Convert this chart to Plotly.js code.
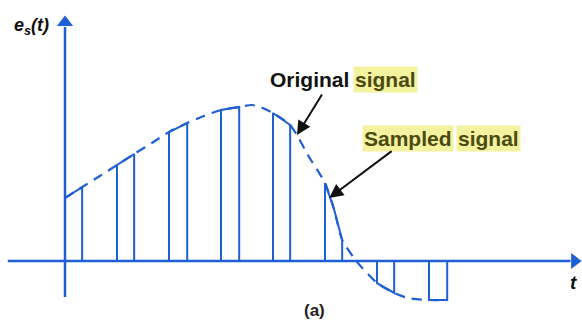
<!DOCTYPE html>
<html>
<head>
<meta charset="utf-8">
<script src="https://cdn.plot.ly/plotly-3.0.1.min.js"></script>
<style>html,body{margin:0;padding:0;background:#fff;}#chart{width:582px;height:327px;}</style>
</head>
<body>
<div id="chart"></div>
<script>
// Original (continuous) signal (t in sample periods)
var tCurve = [0, 0.33, 0.67, 1, 1.33, 1.67, 2, 2.35, 2.67, 3, 3.35, 3.6, 3.8, 4, 4.33, 4.46, 4.67, 5, 5.17, 5.33, 5.6, 5.7, 6, 6.33, 6.6, 7, 7.35];
var yCurve = [0.42, 0.493, 0.567, 0.64, 0.713, 0.787, 0.86, 0.92, 0.967, 1.007, 1.027, 1.04, 1.02, 0.987, 0.907, 0.84, 0.707, 0.52, 0.35, 0.14, 0.0, -0.04, -0.147, -0.213, -0.247, -0.26, -0.26];
// Sampling pulses: start and end of each pulse
var pulseStart = [0, 1, 2, 3, 4, 5, 6, 7];
var pulseEnd = [0.33, 1.33, 2.35, 3.35, 4.33, 5.33, 6.33, 7.35];
// Labels
var yLabel = '<i>e<sub>s</sub>(t)</i>';
var xLabel = '<i>t</i>';
var caption = '(a)';

var blue = '#1f5fd4';
var traces = [];

// axes drawn as lines with arrowheads
traces.push({x: [-1.1, 9.72], y: [0, 0], mode: 'lines', line: {color: blue, width: 2.5}, hoverinfo: 'skip'});
traces.push({x: [0, 0], y: [-0.24, 1.56], mode: 'lines', line: {color: blue, width: 2.5}, hoverinfo: 'skip'});
traces.push({x: [9.8], y: [0], mode: 'markers', marker: {symbol: 'triangle-right', size: 14, color: blue}, hoverinfo: 'skip'});
traces.push({x: [0], y: [1.59], mode: 'markers', marker: {symbol: 'triangle-up', size: 14, color: blue}, hoverinfo: 'skip'});

// dashed original signal
traces.push({x: tCurve, y: yCurve, mode: 'lines', line: {color: blue, width: 2.2, dash: '10px,7px', shape: 'spline', smoothing: 0.6}, hoverinfo: 'skip'});

// pulses following the curve
for (var i = 0; i < pulseStart.length; i++) {
  var px = [pulseStart[i]], py = [0];
  for (var j = 0; j < tCurve.length; j++) {
    if (tCurve[j] >= pulseStart[i] - 1e-9 && tCurve[j] <= pulseEnd[i] + 1e-9) {
      px.push(tCurve[j]); py.push(yCurve[j]);
    }
  }
  px.push(pulseEnd[i]); py.push(0);
  traces.push({x: px, y: py, mode: 'lines', line: {color: blue, width: 2}, hoverinfo: 'skip'});
}

var W = 582, H = 327;
function pX(p) { return p / W; }
function pY(p) { return 1 - p / H; }
var hl = '#f3f29e', olive = '#4b4a12';
var fnt = 'Liberation Sans, Arial, sans-serif';
function lab(x, y, text, size, color, bg) {
  var a = {xref: 'paper', yref: 'paper', x: pX(x), y: pY(y), xanchor: 'center', yanchor: 'middle',
    text: text, showarrow: false, font: {family: fnt, size: size, color: color}};
  if (bg) { a.bgcolor = bg; a.borderpad = 1; }
  return a;
}

var layout = {
  width: W, height: H,
  margin: {l: 0, r: 0, t: 0, b: 0},
  paper_bgcolor: '#fff', plot_bgcolor: '#fff',
  showlegend: false,
  xaxis: {range: [-1.25, 9.942], visible: false, fixedrange: true},
  yaxis: {range: [-0.44, 1.74], visible: false, fixedrange: true},
  annotations: [
    lab(31, 26, '<b>' + yLabel + '</b>', 18, '#111'),
    lab(573, 282, '<b>' + xLabel + '</b>', 19, '#111'),
    lab(314, 310, '<b>' + caption + '</b>', 17, '#222'),
    lab(309, 80, '<b>Original</b>', 21, '#111'),
    lab(385, 80, '<b>signal</b>', 21, olive, hl),
    lab(408, 138, '<b>Sampled</b>', 21, olive, hl),
    lab(488, 138, '<b>signal</b>', 21, olive, hl),
    {x: 4.46, y: 0.84, text: '', showarrow: true, ax: 26, ay: -42, arrowhead: 2, arrowsize: 1.4, arrowwidth: 2, arrowcolor: '#111'},
    {x: 5.08, y: 0.42, text: '', showarrow: true, ax: 64, ay: -48, arrowhead: 2, arrowsize: 1.4, arrowwidth: 2, arrowcolor: '#111'}
  ]
};

Plotly.newPlot('chart', traces, layout, {staticPlot: true, displayModeBar: false});
</script>
</body>
</html>
